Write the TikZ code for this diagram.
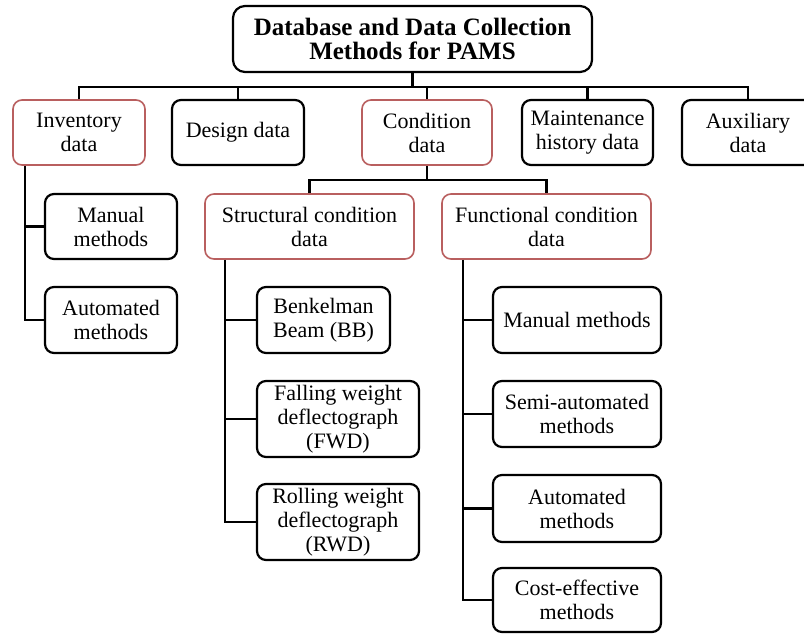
\documentclass[tikz,border=0pt]{standalone}
\usepackage{fontspec}
\setmainfont{Liberation Serif}
\definecolor{boxred}{RGB}{185,95,95}
\begin{document}
\begin{tikzpicture}[x=1pt,y=-1pt,
  box/.style={draw=black, line width=2.2pt, rounded corners=9pt, fill=white,
    align=center, inner sep=0pt, font=\fontsize{22}{24}\selectfont},
  redbox/.style={box, draw=boxred, line width=1.6pt},
  titlebox/.style={box, rounded corners=12pt, font=\fontsize{25}{24}\selectfont\bfseries},
  link/.style={line width=2.2pt}]
\clip (0,0) rectangle (804,633);
\fill[white] (0,0) rectangle (804,633);

% top level
\node[titlebox, minimum width=359pt, minimum height=66pt] (title) at (412.5,39)
  {Database and Data Collection\\Methods for PAMS};

% first row of data categories
\node[redbox, minimum width=132pt, minimum height=65pt] (inv)   at (79,132.5)  {Inventory\\data};
\node[box,    minimum width=132pt, minimum height=65pt] (des)   at (238,132.5) {Design data};
\node[redbox, minimum width=130pt, minimum height=65pt] (cond)  at (427,132.5) {Condition\\data};
\node[box,    minimum width=131pt, minimum height=65pt] (maint) at (587.5,132.5) {Maintenance\\history data};
\node[box,    minimum width=132pt, minimum height=65pt] (aux)   at (748,132.5) {Auxiliary\\data};

% inventory methods
\node[box, minimum width=132pt, minimum height=65pt] (man1)  at (111,226.5) {Manual\\methods};
\node[box, minimum width=132pt, minimum height=66pt] (auto1) at (111,320)   {Automated\\methods};

% condition data split
\node[redbox, minimum width=209pt, minimum height=65pt] (struc) at (309.5,226.5) {Structural condition\\data};
\node[redbox, minimum width=209pt, minimum height=65pt] (func)  at (546.5,226.5) {Functional condition\\data};

% structural methods
\node[box, minimum width=133pt, minimum height=66pt] (bb)  at (323.5,320) {Benkelman\\Beam (BB)};
\node[box, minimum width=162pt, minimum height=76pt] (fwd) at (338,419)   {Falling weight\\deflectograph\\(FWD)};
\node[box, minimum width=162pt, minimum height=76pt] (rwd) at (338,522)   {Rolling weight\\deflectograph\\(RWD)};

% functional methods
\node[box, minimum width=168pt, minimum height=66pt] (man2)  at (577,320)   {Manual methods};
\node[box, minimum width=168pt, minimum height=66pt] (semi)  at (577,414)   {Semi-automated\\methods};
\node[box, minimum width=168pt, minimum height=67pt] (auto2) at (577,508.5) {Automated\\methods};
\node[box, minimum width=168pt, minimum height=64pt] (cost)  at (577,600)   {Cost-effective\\methods};

% bus and trunk positions
\coordinate (bus)    at (0,87);
\coordinate (cbus)   at (0,180);
\coordinate (itrunk) at (25,0);
\coordinate (strunk) at (225,0);
\coordinate (ftrunk) at (463,0);

% main bus
\draw[link] (title.south) -- (title.south |- bus);
\draw[link] (inv.north) |- (aux.north |- bus) -- (aux.north);
\draw[link] (des.north) -- (des.north |- bus);
\draw[link] (cond.north) -- (cond.north |- bus);
\draw[link] (maint.north) -- (maint.north |- bus);

% inventory branch
\draw[link] (inv.south -| itrunk) |- (auto1.west);
\draw[link] (man1.west) -- (man1.west -| itrunk);

% condition branch
\draw[link] (cond.south) -- (cond.south |- cbus);
\draw[link] (struc.north) |- (func.north |- cbus) -- (func.north);

% structural branch
\draw[link] (struc.south -| strunk) |- (rwd.west);
\draw[link] (bb.west) -- (bb.west -| strunk);
\draw[link] (fwd.west) -- (fwd.west -| strunk);

% functional branch
\draw[link] (func.south -| ftrunk) |- (cost.west);
\draw[link] (man2.west) -- (man2.west -| ftrunk);
\draw[link] (semi.west) -- (semi.west -| ftrunk);
\draw[link] (auto2.west) -- (auto2.west -| ftrunk);
\end{tikzpicture}
\end{document}
